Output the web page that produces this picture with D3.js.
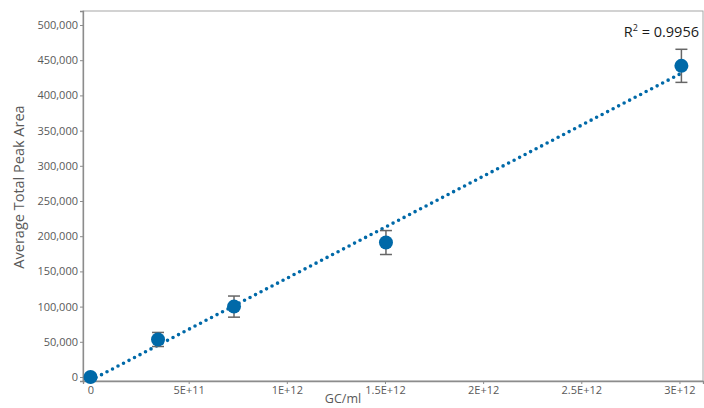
<!DOCTYPE html>
<html>
<head>
<meta charset="utf-8">
<script src="https://cdn.jsdelivr.net/npm/d3@7"></script>
<style>
  html, body { margin: 0; padding: 0; background: #fff; }
  svg { display: block; font-family: "Open Sans", "Noto Sans", sans-serif; }
</style>
</head>
<body>
<svg id="chart" width="704" height="408"></svg>
<script>
// Concentration (GC/ml) of each standard and its mean peak area with SD
const concentration = [0, 0.344e12, 0.731e12, 1.505e12, 3.01e12];
const peakArea      = [0, 53300, 100000, 191000, 442000];
const peakAreaSD    = [0, 10000, 15000, 17000, 23500];

const yTicks = [0, 50000, 100000, 150000, 200000, 250000, 300000, 350000, 400000, 450000, 500000];
const xTicks = [0, 0.5e12, 1e12, 1.5e12, 2e12, 2.5e12, 3e12];
const xTickLabels = ["0", "5E+11", "1E+12", "1.5E+12", "2E+12", "2.5E+12", "3E+12"];
const r2Label = "0.9956";

const blue = "#0069a8";
const svg = d3.select("#chart");
const plot = { left: 83, right: 703, top: 11, bottom: 381 };

const x = d3.scaleLinear().domain([-0.0382e12, 3.12e12]).range([plot.left, plot.right]);
const y = d3.scaleLinear().domain([-5682, 519886]).range([plot.bottom, plot.top]);

// frame
svg.append("rect")
  .attr("x", plot.left).attr("y", plot.top)
  .attr("width", plot.right - plot.left).attr("height", plot.bottom - plot.top)
  .attr("fill", "none").attr("stroke", "#a6a6a6").attr("stroke-width", 1);

// y axis
const yAxis = svg.append("g")
  .attr("transform", `translate(${plot.left},0)`)
  .call(d3.axisLeft(y).tickValues(yTicks).tickFormat(d3.format(",")).tickSize(3).tickPadding(2));
yAxis.select(".domain").attr("stroke", "#8c8c8c").attr("stroke-width", 1.3);
yAxis.selectAll(".tick line").attr("stroke", "#8c8c8c");
yAxis.selectAll(".tick text").attr("fill", "#595959").style("font-size", "11px")
  .style("font-family", "'Open Sans', sans-serif");

// x axis
const xAxis = svg.append("g")
  .attr("transform", `translate(0,${plot.bottom})`)
  .call(d3.axisBottom(x).tickValues(xTicks).tickFormat((d, i) => xTickLabels[i]).tickSize(3).tickPadding(2));
xAxis.select(".domain").attr("stroke", "#8c8c8c").attr("stroke-width", 1.3);
xAxis.selectAll(".tick line").attr("stroke", "#8c8c8c");
xAxis.selectAll(".tick text").attr("fill", "#595959").style("font-size", "11px")
  .style("font-family", "'Open Sans', sans-serif");

// axis titles
svg.append("text")
  .attr("transform", `translate(24,187) rotate(-90)`)
  .attr("text-anchor", "middle")
  .attr("fill", "#595959")
  .style("font-size", "14.5px")
  .text("Average Total Peak Area");

svg.append("text")
  .attr("x", 343).attr("y", 403)
  .attr("text-anchor", "middle")
  .attr("fill", "#595959")
  .style("font-size", "12.5px")
  .text("GC/ml");

// least-squares trendline
const n = concentration.length;
const mx = d3.mean(concentration), my = d3.mean(peakArea);
let sxy = 0, sxx = 0;
for (let i = 0; i < n; i++) {
  sxy += (concentration[i] - mx) * (peakArea[i] - my);
  sxx += (concentration[i] - mx) ** 2;
}
const slope = sxy / sxx, intercept = my - slope * mx;
const xExt = d3.extent(concentration);
svg.append("path")
  .datum(xExt)
  .attr("d", d3.line().x(d => x(d)).y(d => y(intercept + slope * d)))
  .attr("stroke", blue).attr("stroke-width", 3.6)
  .attr("stroke-linecap", "round").attr("stroke-dasharray", "0 6.2")
  .attr("fill", "none");

// error bars
const err = svg.append("g").attr("stroke", "#666").attr("stroke-width", 1.5);
concentration.forEach((c, i) => {
  if (!peakAreaSD[i]) return;
  const cx = x(c), y0 = y(peakArea[i] - peakAreaSD[i]), y1 = y(peakArea[i] + peakAreaSD[i]);
  err.append("line").attr("x1", cx).attr("x2", cx).attr("y1", y0).attr("y2", y1);
  err.append("line").attr("x1", cx - 6).attr("x2", cx + 6).attr("y1", y0).attr("y2", y0);
  err.append("line").attr("x1", cx - 6).attr("x2", cx + 6).attr("y1", y1).attr("y2", y1);
});

// markers
svg.append("g").selectAll("circle")
  .data(concentration)
  .join("circle")
  .attr("cx", d => x(d))
  .attr("cy", (d, i) => y(peakArea[i]))
  .attr("r", 7)
  .attr("fill", blue);

// R² annotation
const r2 = svg.append("text")
  .attr("x", 699).attr("y", 37)
  .attr("text-anchor", "end")
  .attr("fill", "#1a1a1a")
  .style("font-size", "14.5px");
r2.append("tspan").text("R");
r2.append("tspan").attr("dy", -6).style("font-size", "9px").text("2");
r2.append("tspan").attr("dy", 6).text(" = " + r2Label);
</script>
</body>
</html>
